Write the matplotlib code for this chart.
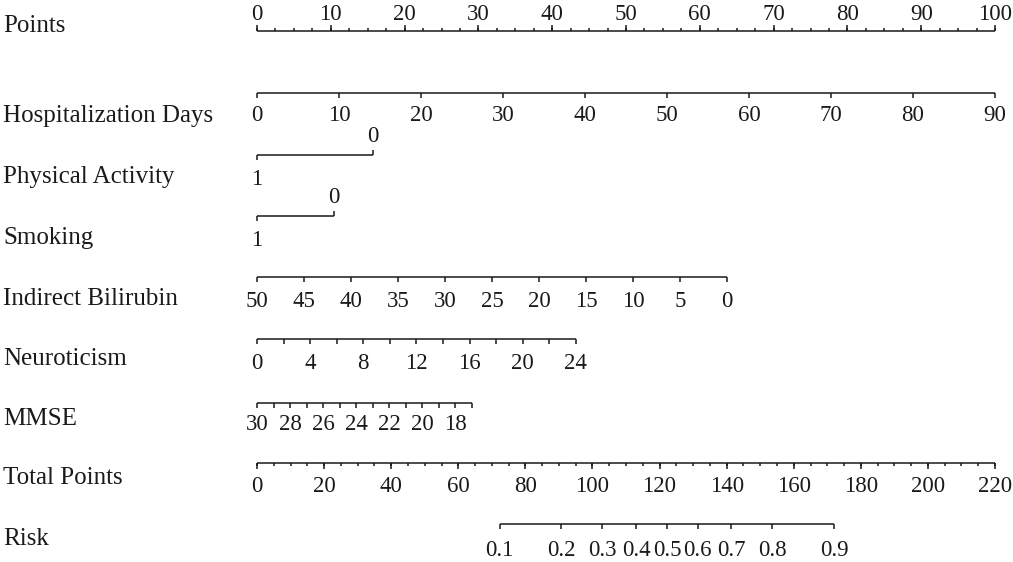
import numpy as np
import matplotlib
matplotlib.use("Agg")
import matplotlib.pyplot as plt

# ---------------- data ----------------
row_names = ["Points", "Hospitalization Days", "Physical Activity", "Smoking",
             "Indirect Bilirubin", "Neuroticism", "MMSE", "Total Points", "Risk"]

# Points scale
points_major = [0, 10, 20, 30, 40, 50, 60, 70, 80, 90, 100]
points_minor = list(np.arange(0, 100.01, 2.5))

# Hospitalization Days: value range -> points range
hosp_values = [0, 10, 20, 30, 40, 50, 60, 70, 80, 90]
hosp_range = (0, 90)
hosp_points = (0, 100)

# Physical Activity (categorical)
pa_levels = ["0", "1"]
pa_points = [15.7, 0]

# Smoking (categorical)
smoke_levels = ["0", "1"]
smoke_points = [10.4, 0]

# Indirect Bilirubin
ib_values = [50, 45, 40, 35, 30, 25, 20, 15, 10, 5, 0]
ib_range = (50, 0)
ib_points = (0, 63.7)

# Neuroticism
neuro_ticks = [0, 2, 4, 6, 8, 10, 12, 14, 16, 18, 20, 22, 24]
neuro_labels = [0, 4, 8, 12, 16, 20, 24]
neuro_range = (0, 24)
neuro_points = (0, 43.2)

# MMSE
mmse_ticks = [30, 29, 28, 27, 26, 25, 24, 23, 22, 21, 20, 19, 18, 17]
mmse_labels = [30, 28, 26, 24, 22, 20, 18]
mmse_range = (30, 17)
mmse_points = (0, 29.1)

# Total Points
total_major = [0, 20, 40, 60, 80, 100, 120, 140, 160, 180, 200, 220]
total_minor = list(np.arange(0, 220.01, 5))
total_range = (0, 220)

# Risk (logistic on total points)
risk_ticks = [0.1, 0.2, 0.3, 0.4, 0.5, 0.6, 0.7, 0.8, 0.9]
risk_mid_total = 122.2
risk_slope = 0.0441

# ---------------- layout ----------------
W, H = 1013, 562
X0, PXPP = 257, 7.38          # pixel of 0 points, pixels per point
row_y = [31, 93, 155, 216, 277, 339, 403, 463, 524]
label_off = [-11, 28, 30, 30, 30, 30, 27, 29, 32]
name_base = [32, 122, 183, 244, 305, 365, 425, 484, 545]
LW = 1.1
COL = "#1a1a1a"
NAME_FS = 18
TICK_FS = 16.5
FONT = "Liberation Serif"

fig = plt.figure(figsize=(W / 100, H / 100), dpi=100)
ax = fig.add_axes([0, 0, 1, 1])
ax.set_xlim(-X0 / PXPP, (W - X0) / PXPP)
ax.set_ylim(H, 0)
ax.axis("off")


def lin(v, vr, pr):
    v = np.asarray(v, dtype=float)
    return pr[0] + (v - vr[0]) * (pr[1] - pr[0]) / (vr[1] - vr[0])


def hline(y, x0, x1):
    ax.plot([x0, x1], [y, y], color=COL, lw=LW, solid_capstyle="butt")


def ticks(y, xs, length):
    xs = np.atleast_1d(xs)
    ax.vlines(xs, y, y + length, color=COL, lw=LW)


def labels(y, xs, texts, off):
    for x, t in zip(np.atleast_1d(xs), texts):
        ax.text(x, y + off, t, ha="center", va="baseline",
                fontsize=TICK_FS, family=FONT, color=COL)


def fmt(v):
    return ("%g" % v)


# Points
y = row_y[0]
hline(y, 0, 100)
ticks(y, points_minor, -3)
ticks(y, points_major, -6)
labels(y, points_major, [fmt(v) for v in points_major], label_off[0])

# Hospitalization Days
y = row_y[1]
xs = lin(hosp_values, hosp_range, hosp_points)
hline(y, xs.min(), xs.max())
ticks(y, xs, 5)
labels(y, xs, [fmt(v) for v in hosp_values], label_off[1])

# Categorical
for i, lv, pts in [(2, pa_levels, pa_points), (3, smoke_levels, smoke_points)]:
    y = row_y[i]
    hline(y, min(pts), max(pts))
    ticks(y, pts[0], -5)
    labels(y, [pts[0]], [lv[0]], -13)
    ticks(y, pts[1], 5)
    labels(y, [pts[1]], [lv[1]], label_off[i])

# Indirect Bilirubin
y = row_y[4]
xs = lin(ib_values, ib_range, ib_points)
hline(y, xs.min(), xs.max())
ticks(y, xs, 5)
labels(y, xs, [fmt(v) for v in ib_values], label_off[4])

# Neuroticism
y = row_y[5]
xs = lin(neuro_ticks, neuro_range, neuro_points)
hline(y, xs.min(), xs.max())
ticks(y, xs, 5)
labels(y, lin(neuro_labels, neuro_range, neuro_points), [fmt(v) for v in neuro_labels], label_off[5])

# MMSE
y = row_y[6]
xs = lin(mmse_ticks, mmse_range, mmse_points)
hline(y, xs.min(), xs.max())
ticks(y, xs, 5)
labels(y, lin(mmse_labels, mmse_range, mmse_points), [fmt(v) for v in mmse_labels], label_off[6])

# Total Points
y = row_y[7]
hline(y, 0, 100)
ticks(y, lin(total_minor, total_range, (0, 100)), 3)
ticks(y, lin(total_major, total_range, (0, 100)), 6)
labels(y, lin(total_major, total_range, (0, 100)), [fmt(v) for v in total_major], label_off[7])

# Risk
y = row_y[8]
rt = np.array(risk_ticks)
tot = risk_mid_total + np.log(rt / (1 - rt)) / risk_slope
xs = lin(tot, total_range, (0, 100))
hline(y, xs.min(), xs.max())
ticks(y, xs, 5)
labels(y, xs, [fmt(v) for v in risk_ticks], label_off[8])

# Names
for name, yb in zip(row_names, name_base):
    ax.text(-X0 / PXPP + 3 / PXPP, yb, name, ha="left", va="baseline",
            fontsize=NAME_FS, family=FONT, color=COL)

fig.savefig("out.png", dpi=100, facecolor="white")
